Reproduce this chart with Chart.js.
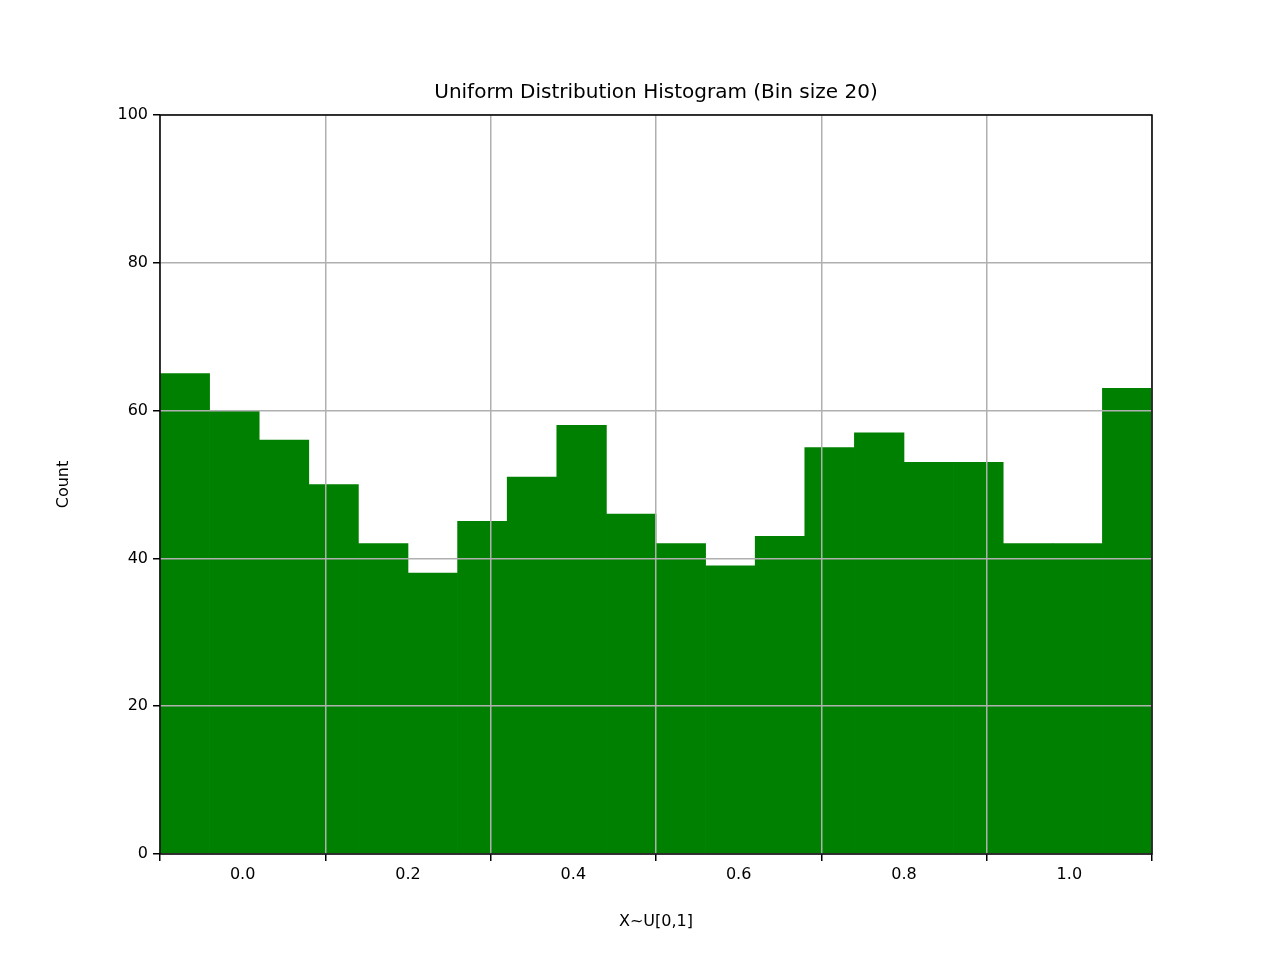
<!DOCTYPE html>
<html><head><meta charset="utf-8">
<script src="https://cdn.jsdelivr.net/npm/chart.js@4"></script>
<style>body{margin:0;background:#fff}#w{width:1280px;height:960px}</style>
</head><body><div id="w"><canvas id="c" width="1280" height="960"></canvas></div>
<script>
const bins = ['0.00','0.05','0.10','0.15','0.20','0.25','0.30','0.35','0.40','0.45','0.50','0.55','0.60','0.65','0.70','0.75','0.80','0.85','0.90','0.95'];
const counts = [65,60,56,50,42,38,45,51,58,46,42,39,43,55,57,53,53,42,42,63];
const titleText = 'Uniform Distribution Histogram (Bin size 20)';
const font = 'DejaVu Sans';
const extras = {
  id:'extras',
  afterDraw(ch){
    const {ctx, chartArea:a} = ch;
    ctx.save();
    ctx.strokeStyle='#000'; ctx.lineWidth=1.5;
    ctx.strokeRect(a.left,a.top,a.right-a.left,a.bottom-a.top);
    ctx.fillStyle='#000'; ctx.font='20px "'+font+'"';
    ctx.textAlign='center'; ctx.textBaseline='alphabetic';
    ctx.fillText(titleText,(a.left+a.right)/2,a.top-17);
    ctx.restore();
  }
};
new Chart(document.getElementById('c'),{
  type:'bar',
  data:{labels:bins,datasets:[{data:counts,backgroundColor:'#008000',barPercentage:1,categoryPercentage:1,xAxisID:'x',yAxisID:'y'}]},
  options:{
    responsive:false,animation:false,
    layout:{padding:{top:115,right:128,left:50,bottom:25}},
    plugins:{legend:{display:false},tooltip:{enabled:false}},
    scales:{
      x:{type:'category',display:false,offset:true},
      x2:{type:'linear',position:'bottom',min:0,max:1,
        ticks:{stepSize:0.2,color:'#000',font:{family:font,size:16},padding:4,callback:v=>v.toFixed(1)},
        grid:{color:'#b0b0b0',lineWidth:1.5,z:1,tickLength:7,tickColor:'#000',drawTicks:true},
        border:{display:false},
        title:{display:true,text:'X~U[0,1]',color:'#000',font:{family:font,size:16}},
        afterFit(s){s.height=81;}
      },
      y:{min:0,max:100,
        ticks:{stepSize:20,color:'#000',font:{family:font,size:16},padding:5},
        grid:{color:'#b0b0b0',lineWidth:1.5,z:1,tickLength:7,tickColor:'#000'},
        border:{display:false},
        title:{display:true,text:'Count',color:'#000',font:{family:font,size:16}},
        afterFit(s){s.width=110;}
      }
    }
  },
  plugins:[extras]
});
</script></body></html>
